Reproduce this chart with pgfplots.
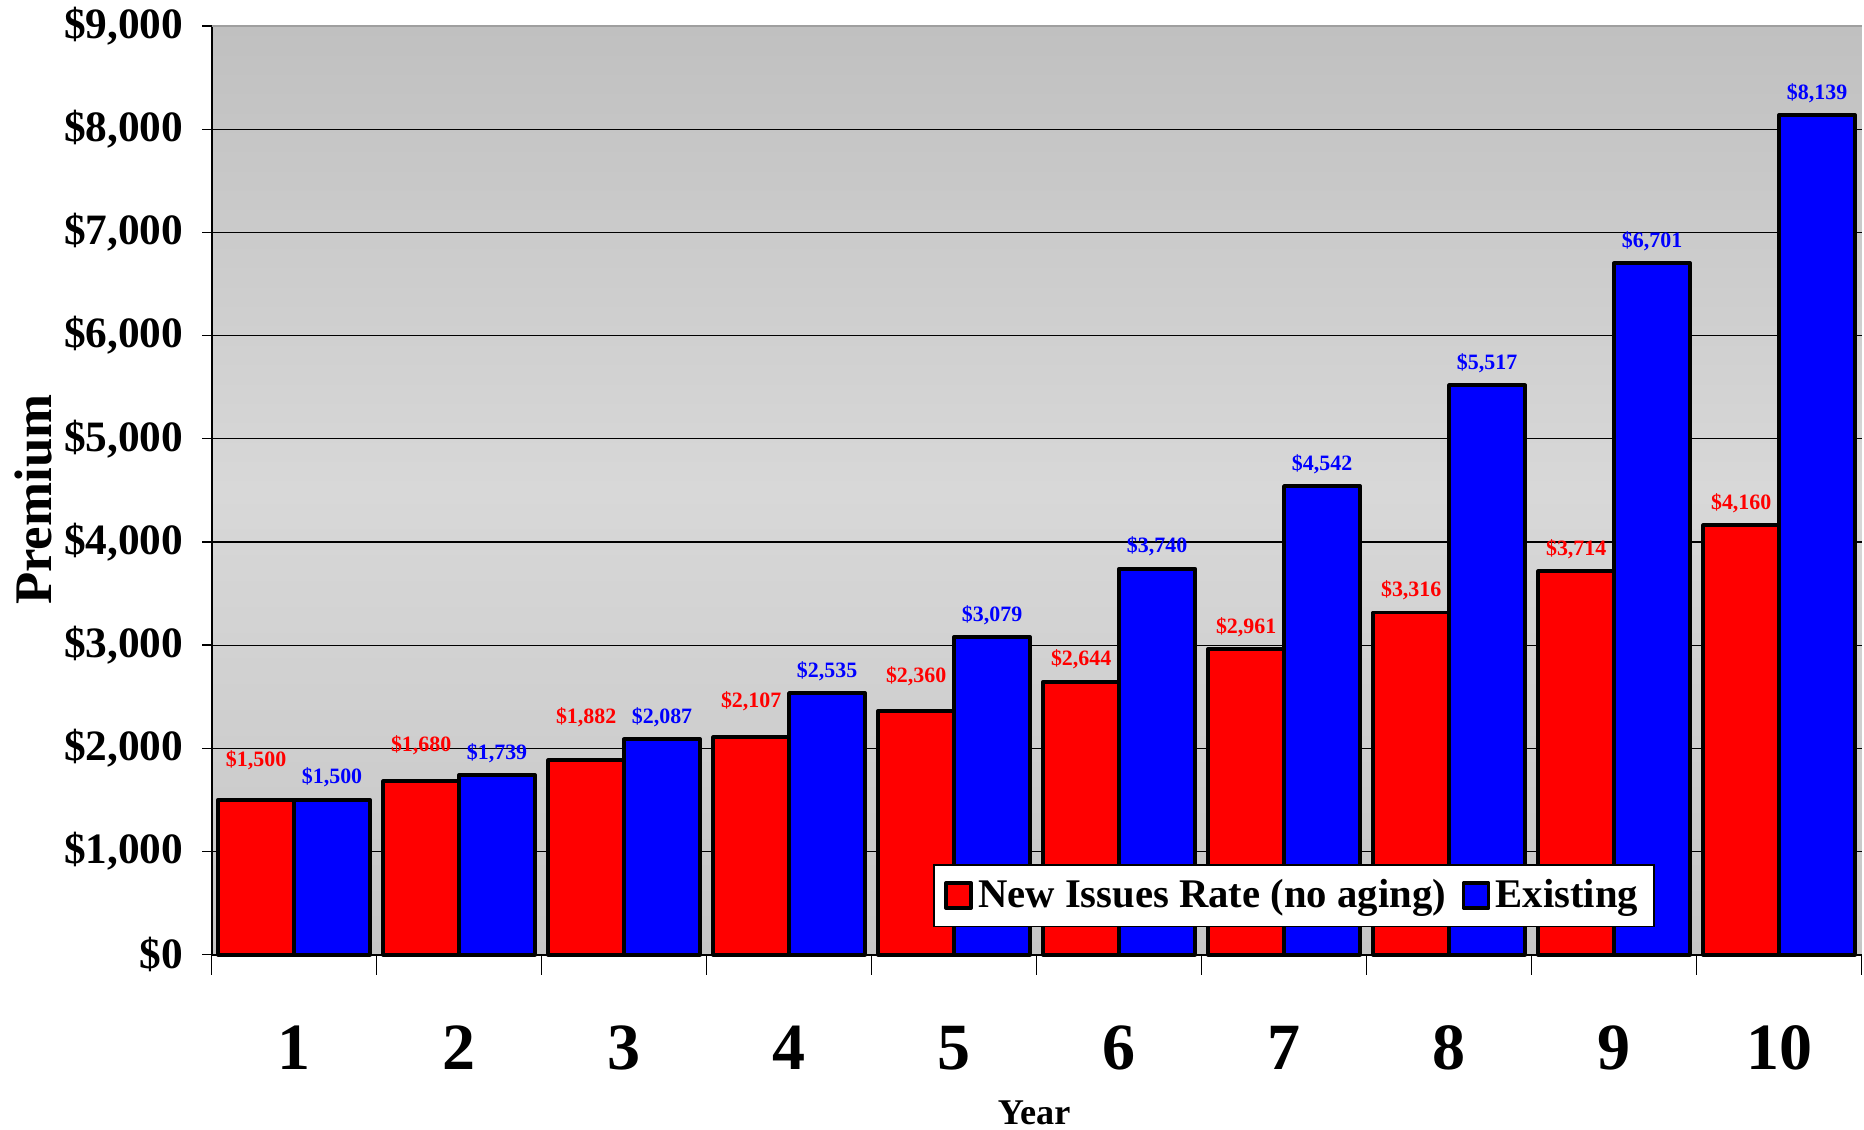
\documentclass[border=0pt]{standalone}
\usepackage{fontspec}
\setmainfont{Liberation Serif}
\usepackage{pgfplots}
\usepackage{pgfplotstable}
\pgfplotsset{compat=1.18}

\definecolor{barred}{HTML}{FF0000}
\definecolor{barblue}{HTML}{0000FF}
\definecolor{bgtop}{HTML}{C0C0C0}
\definecolor{bgmid}{HTML}{D8D8D8}
\definecolor{bgbot}{HTML}{C6C6C6}

% premium by policy year; "off" lifts the value label above the bar (x 0.45pt)
\pgfplotstableread{
year premium off
1  1500 31.5
2  1680 29
3  1882 34.5
4  2107 28.5
5  2360 28
6  2644 17
7  2961 17
8  3316 17
9  3714 17
10 4160 17
}\newissues

\pgfplotstableread{
year premium off
1  1500 17
2  1739 17
3  2087 17
4  2535 17
5  3079 17
6  3740 17
7  4542 17
8  5517 17
9  6701 17
10 8139 17
}\existing

\begin{document}
\begin{tikzpicture}
\begin{axis}[
  scale only axis,
  width=624.6pt, height=351.45pt,
  xmin=0.5, xmax=10.5, ymin=0, ymax=9000,
  axis x line*=bottom, axis y line*=left,
  axis line style={line width=0.8pt, black},
  axis background/.style={shade, top color=bgtop, bottom color=bgbot, middle color=bgmid},
  ytick={0,1000,...,8000},
  extra y ticks={9000},
  extra y tick style={grid style={draw=gray!75, line width=0.6pt}},
  ymajorgrids,
  grid style={black, line width=0.45pt},
  tick align=outside,
  major tick length=3.6pt,
  minor tick length=7.6pt,
  tick style={black, line width=0.5pt},
  major x tick style={draw=none},
  xtick={1,2,...,10},
  xticklabels={1,2,3,4,5,6,7,8,9,10},
  minor xtick={0.5,1.5,...,10.5},
  scaled y ticks=false,
  /pgf/number format/.cd, fixed, precision=0, 1000 sep={,}, assume math mode=true,
  /pgfplots/.cd,
  yticklabel={\$\pgfmathprintnumber{\tick}},
  yticklabel style={font=\fontsize{16.4}{19}\selectfont\bfseries, xshift=-3.6pt},
  xticklabel style={font=\fontsize{25}{30}\selectfont\bfseries, anchor=base, yshift=-40pt},
  ylabel={Premium},
  ylabel style={at={(axis description cs:-0.108,0.49)}, anchor=center,
    font=\fontsize{20}{24}\selectfont\bfseries},
  xlabel={Year},
  xlabel style={at={(axis description cs:0.4985,-0.1831)}, anchor=base,
    font=\fontsize{13.7}{16}\selectfont\bfseries},
  ybar, bar width=0.46,
  legend columns=2,
  legend image code/.code={\draw[#1, line width=1.3pt] (0pt,-4.75pt) rectangle (9.5pt,4.75pt);},
  legend style={at={(0.8746,0.0294)}, anchor=south east, draw=black, line width=0.6pt,
    fill=white, font=\fontsize{15.4}{18}\selectfont\bfseries,
    inner xsep=4pt, inner ysep=3.6pt,
    /tikz/every even column/.append style={column sep=4pt}},
  clip=false,
]
\addplot[bar shift=-0.23, fill=barred, draw=black, line width=1.5pt, line join=round,
  point meta=y,
  visualization depends on={\thisrow{off} \as \lift},
  nodes near coords={\$\pgfmathprintnumber{\pgfplotspointmeta}},
  every node near coord/.append style={font=\fontsize{8.3}{9.5}\selectfont\bfseries,
    text=barred, anchor=center, yshift={\lift*0.45pt+0.75pt}}]
  table[x=year, y=premium] {\newissues};
\addlegendentry{New Issues Rate (no aging)}
\addplot[bar shift=0.23, fill=barblue, draw=black, line width=1.5pt, line join=round,
  point meta=y,
  visualization depends on={\thisrow{off} \as \lift},
  nodes near coords={\$\pgfmathprintnumber{\pgfplotspointmeta}},
  every node near coord/.append style={font=\fontsize{8.3}{9.5}\selectfont\bfseries,
    text=barblue, anchor=center, yshift={\lift*0.45pt+0.75pt}}]
  table[x=year, y=premium] {\existing};
\addlegendentry{Existing}
\coordinate (pagebl) at (rel axis cs:-0.12824,-0.18822);
\coordinate (pagetr) at (rel axis cs:1.00144,1.02817);
\end{axis}
\pgfresetboundingbox
\path[use as bounding box] (pagebl) rectangle (pagetr);
\end{tikzpicture}
\end{document}
